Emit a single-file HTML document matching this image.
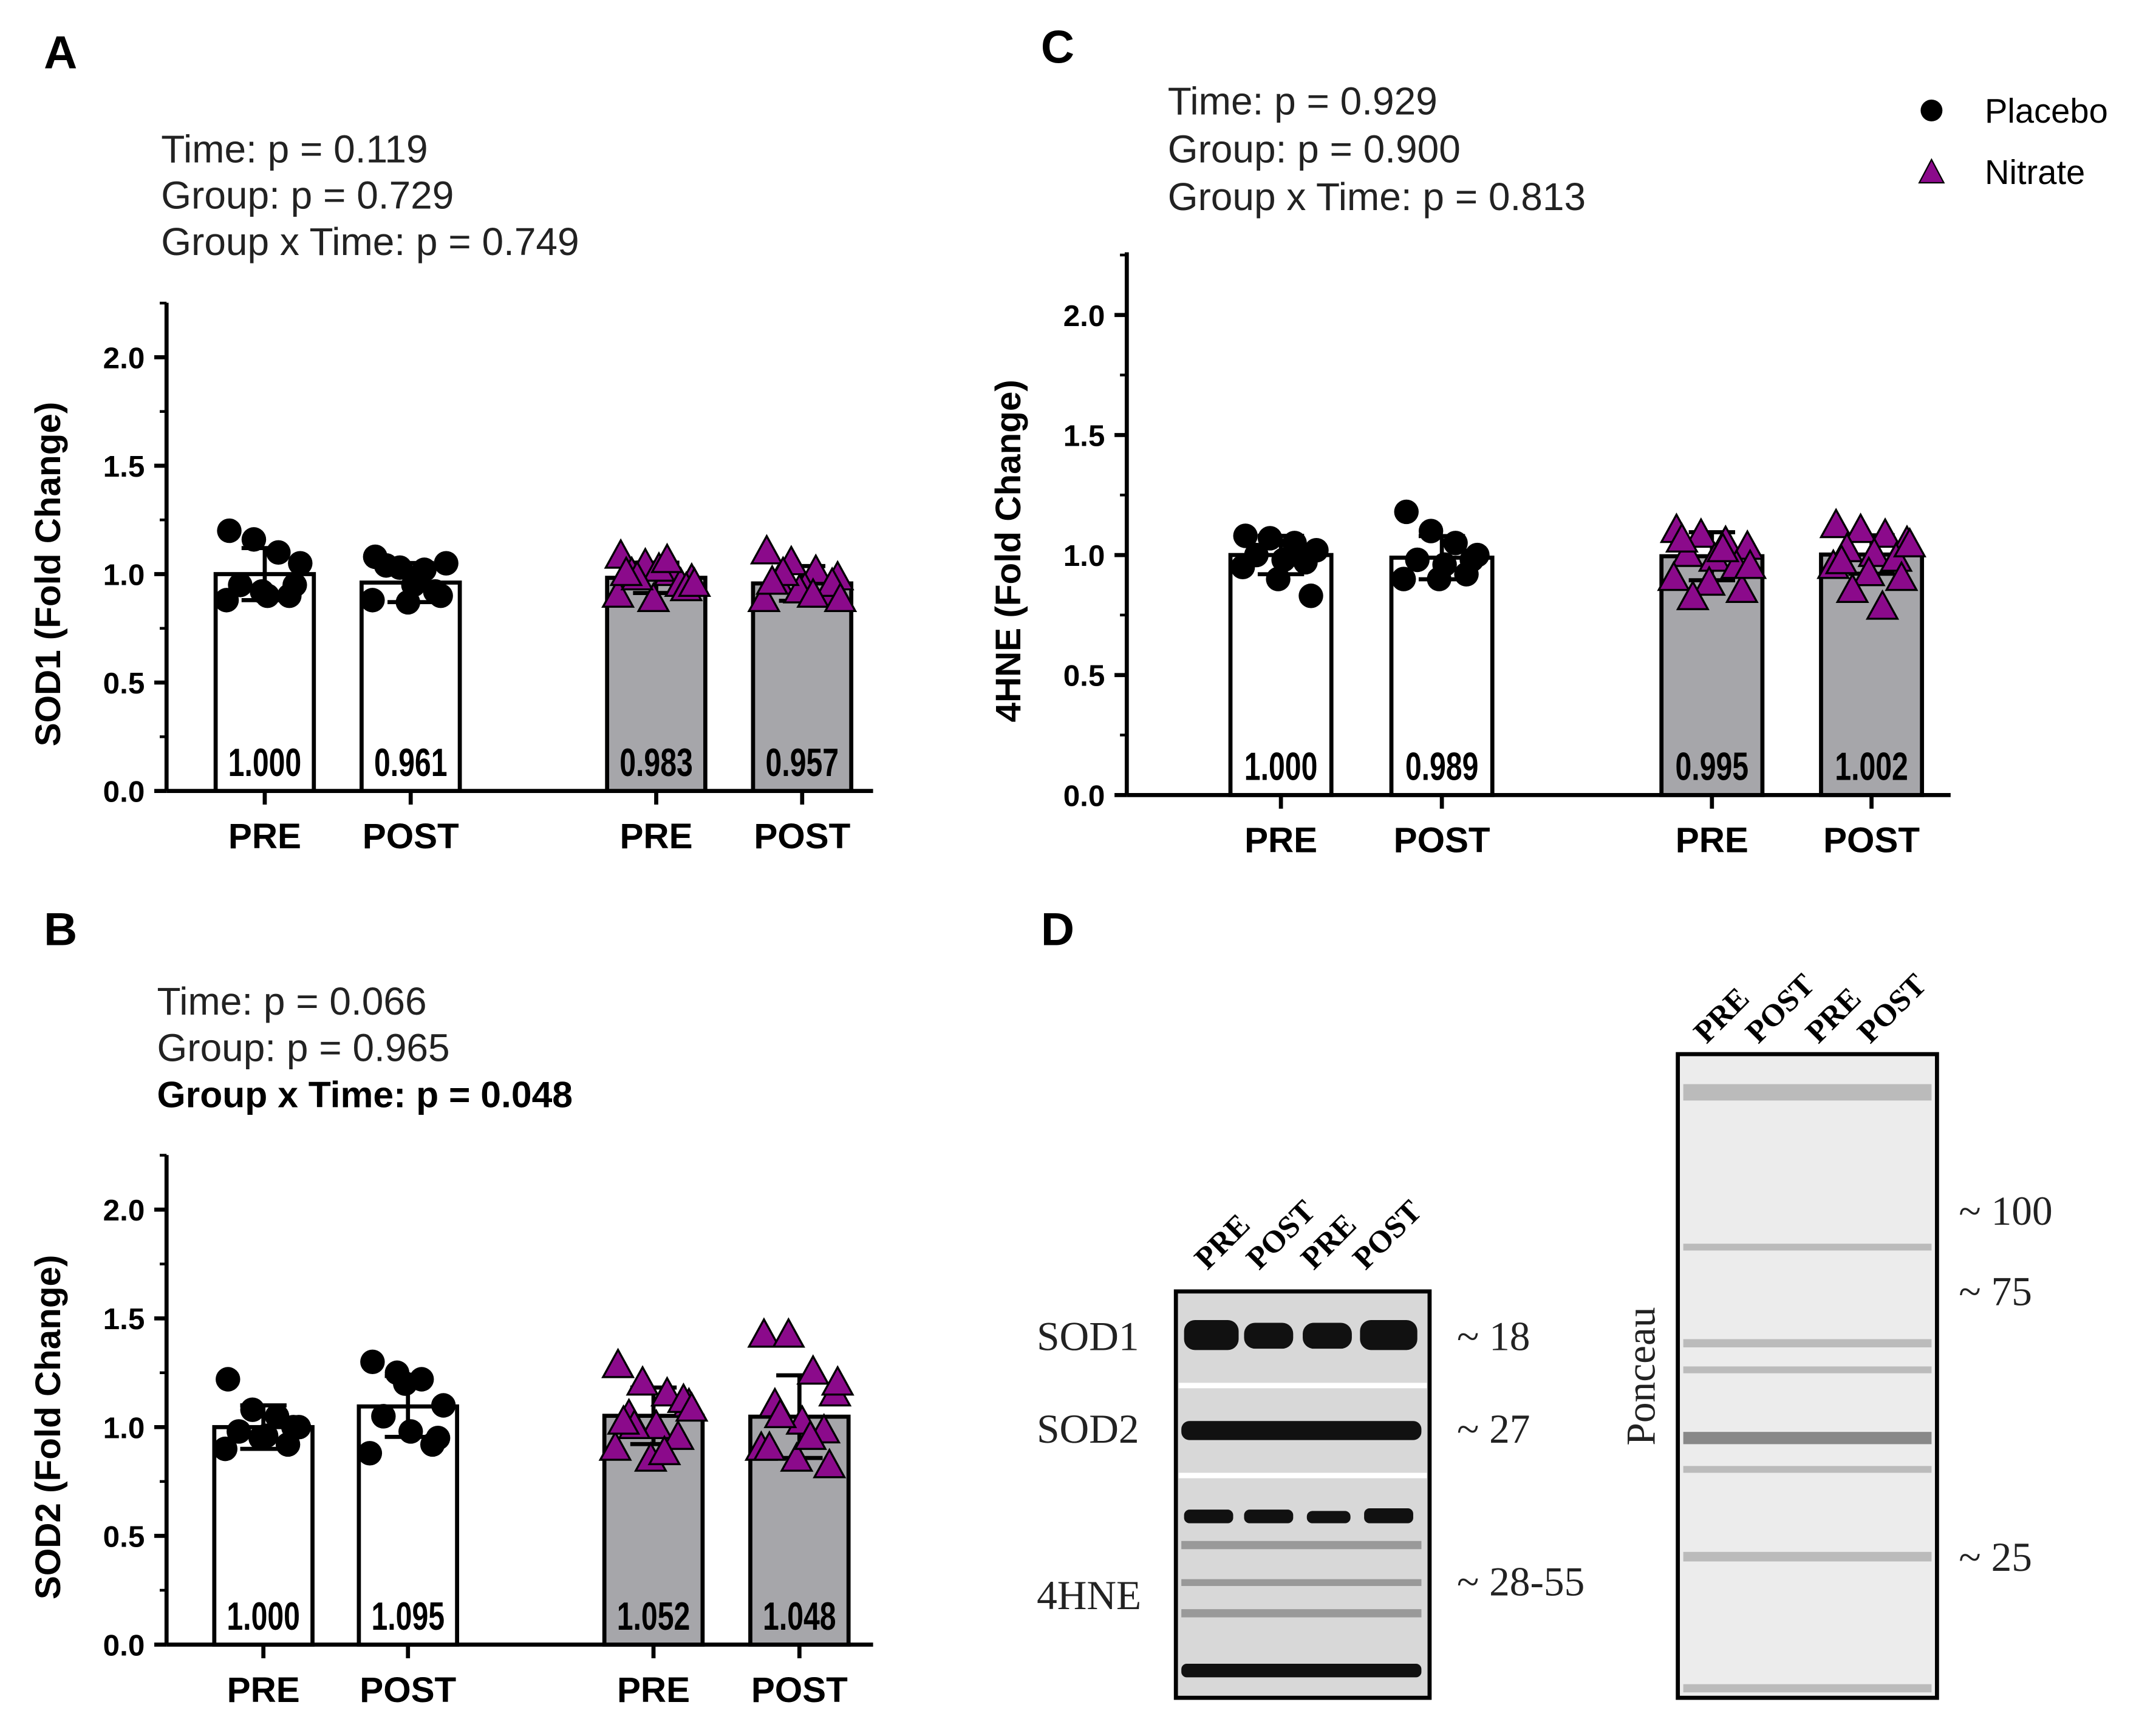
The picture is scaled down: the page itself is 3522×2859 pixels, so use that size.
<!DOCTYPE html>
<html><head><meta charset="utf-8"><style>html,body{margin:0;padding:0;background:#fff}svg{display:block}text{font-family:"Liberation Sans",Arial,sans-serif}text.serif{font-family:"Liberation Serif","Times New Roman",serif}</style></head>
<body>
<svg id="fig" xmlns="http://www.w3.org/2000/svg" width="3522" height="2859" viewBox="0 0 1568 1273">
<g id="static">
<text x="32" y="50" font-size="34" font-weight="bold">A</text>
<text x="32" y="693" font-size="34" font-weight="bold">B</text>
<text x="763" y="46" font-size="34" font-weight="bold">C</text>
<text x="763" y="693" font-size="34" font-weight="bold">D</text>
<g font-size="28.5" fill="#222">
<text x="118" y="119">Time: p = 0.119</text>
<text x="118" y="153">Group: p = 0.729</text>
<text x="118" y="187">Group x Time: p = 0.749</text>
<text x="115" y="744">Time: p = 0.066</text>
<text x="115" y="778">Group: p = 0.965</text>
<text x="115" y="812" font-weight="bold" fill="#000" font-size="27">Group x Time: p = 0.048</text>
<text x="856" y="84">Time: p = 0.929</text>
<text x="856" y="119">Group: p = 0.900</text>
<text x="856" y="154">Group x Time: p = 0.813</text>
</g>
<g>
<circle cx="1416" cy="81" r="8" fill="#000"/>
<text x="1455" y="90" font-size="25">Placebo</text>
<polygon points="1416,117 1425,134 1407,134" fill="#8b0a8b" stroke="#000" stroke-width="1"/>
<text x="1455" y="135" font-size="25">Nitrate</text>
</g>
<g>
<g font-size="23" font-weight="bold">
<text class="serif" transform="translate(885,932) rotate(-45)">PRE</text>
<text class="serif" transform="translate(923,932) rotate(-45)">POST</text>
<text class="serif" transform="translate(963,932) rotate(-45)">PRE</text>
<text class="serif" transform="translate(1001,932) rotate(-45)">POST</text>
<text class="serif" transform="translate(1251,766) rotate(-45)">PRE</text>
<text class="serif" transform="translate(1289,766) rotate(-45)">POST</text>
<text class="serif" transform="translate(1333,766) rotate(-45)">PRE</text>
<text class="serif" transform="translate(1371,766) rotate(-45)">POST</text>
</g>
<rect x="862" y="947" width="186" height="298" fill="#d8d8d8" stroke="#000" stroke-width="3"/>
<rect x="864" y="1014" width="182" height="4" fill="#fff"/>
<rect x="864" y="1080" width="182" height="4" fill="#fff"/>
<g fill="#111">
<rect x="868" y="968" width="40" height="22" rx="8"/><rect x="912" y="970" width="36" height="19" rx="8"/><rect x="955" y="970" width="36" height="19" rx="8"/><rect x="997" y="968" width="42" height="22" rx="8"/>
<rect x="866" y="1042" width="176" height="14" rx="6"/>
<rect x="868" y="1107" width="36" height="10" rx="4"/><rect x="912" y="1107" width="36" height="10" rx="4"/><rect x="958" y="1108" width="32" height="9" rx="4"/><rect x="1000" y="1106" width="36" height="11" rx="4"/>
<rect x="866" y="1220" width="176" height="10" rx="4"/>
</g>
<g fill="#999"><rect x="866" y="1130" width="176" height="6"/><rect x="866" y="1158" width="176" height="5"/><rect x="866" y="1180" width="176" height="6"/></g>
<g font-size="30" fill="#222">
<text class="serif" x="760" y="990">SOD1</text><text class="serif" x="760" y="1058">SOD2</text><text class="serif" x="760" y="1180">4HNE</text>
<text class="serif" x="1068" y="990">~ 18</text><text class="serif" x="1068" y="1058">~ 27</text><text class="serif" x="1068" y="1170">~ 28-55</text>
<text class="serif" x="1436" y="898">~ 100</text><text class="serif" x="1436" y="957">~ 75</text><text class="serif" x="1436" y="1152">~ 25</text>
<text class="serif" transform="translate(1213,1060) rotate(-90)">Ponceau</text>
</g>
<rect x="1230" y="773" width="190" height="472" fill="#ececec" stroke="#000" stroke-width="3"/>
<g fill="#bbb"><rect x="1234" y="795" width="182" height="12"/><rect x="1234" y="912" width="182" height="5"/><rect x="1234" y="982" width="182" height="6"/><rect x="1234" y="1002" width="182" height="5"/><rect x="1234" y="1075" width="182" height="5"/><rect x="1234" y="1138" width="182" height="7"/><rect x="1234" y="1235" width="182" height="6"/></g>
<rect x="1234" y="1050" width="182" height="9" fill="#888"/>
</g>
</g>
<g id="charts"></g>
</svg>
<script>
const categories = ["PRE","POST","PRE","POST"];
const meansA = [1.000,0.961,0.983,0.957];
const meansB = [1.000,1.095,1.052,1.048];
const meansC = [1.000,0.989,0.995,1.002];
const sdA = [0.12,0.09,0.07,0.08];
const sdB = [0.10,0.14,0.13,0.19];
const sdC = [0.08,0.09,0.10,0.08];
const ptsA = [[1.2,1.16,1.1,1.05,0.95,0.9,0.9,0.88,0.92,0.95],[1.08,1.03,1.02,1.05,1.04,0.95,0.92,0.88,0.87,0.9],[1.08,1.04,1.0,0.97,1.0,1.02,0.95,0.9,0.88,0.93,0.98,1.06,0.95,1.0],[1.1,1.05,1.01,0.98,0.96,0.93,0.9,0.88,0.92,0.95,1.0,0.9,0.88,0.96]];
const ptsB = [[1.22,1.08,1.05,1.0,0.98,0.96,0.92,0.9,0.95,1.0],[1.3,1.25,1.22,1.1,1.05,0.98,0.92,0.88,1.2,0.95],[1.28,1.2,1.15,1.1,1.05,1.0,0.95,0.9,0.85,1.12,1.0,0.88,1.08,1.02],[1.42,1.42,1.25,1.15,1.1,1.02,0.98,0.9,0.85,0.82,1.05,0.95,1.2,0.9]];
const ptsC = [[1.08,1.07,1.05,1.02,1.0,0.98,0.97,0.95,0.9,0.83],[1.18,1.1,1.05,1.0,0.98,0.96,0.92,0.9,0.9,0.98],[1.1,1.08,1.05,1.03,1.0,0.98,0.95,0.9,0.88,0.85,0.82,1.02,0.95,1.06],[1.12,1.1,1.08,1.05,1.02,1.0,0.98,0.95,0.92,0.9,0.85,0.78,1.04,0.97]];
const NS="http://www.w3.org/2000/svg";
const root=document.getElementById('charts');
function el(tag,attrs,parent){const e=document.createElementNS(NS,tag);for(const k in attrs)e.setAttribute(k,attrs[k]);(parent||root).appendChild(e);return e;}
const jit=[-26,-8,10,26,-18,2,18,-28,-2,22,-14,8,28,-22];
function panel(p){
  const g=el('g',{});
  
  
  const y=v=>p.y0-v*p.unit;
  const ax=el('line',{x1:p.ax,y1:p.top,x2:p.ax,y2:p.y0,stroke:'#000','stroke-width':3},g);
  
  const xa=el('line',{x1:p.ax,y1:p.y0,x2:p.xend,y2:p.y0,stroke:'#000','stroke-width':3},g);
  
  for(let i=0;i<=4;i++){const v=i*0.5;el('line',{x1:p.ax-9,y1:y(v),x2:p.ax,y2:y(v),stroke:'#000','stroke-width':3},g);
    const t=el('text',{x:p.ax-16,y:y(v)+8,'font-size':22,'font-weight':'bold','text-anchor':'end'},g);t.textContent=v.toFixed(1);
    
    if(i<4)el('line',{x1:p.ax-5,y1:y(v+0.25),x2:p.ax,y2:y(v+0.25),stroke:'#000','stroke-width':2},g);}
  el('line',{x1:p.ax-5,y1:y(2.25),x2:p.ax,y2:y(2.25),stroke:'#000','stroke-width':2},g);
  const yt=el('text',{transform:`translate(${p.ax-78},${(p.y0+p.top)/2+20}) rotate(-90)`,'font-size':26,'font-weight':'bold','text-anchor':'middle'},g);
  yt.textContent=p.ylabel;
  categories.forEach((c,i)=>{
    const cx=p.cx[i],w=p.bw,m=p.means[i],nit=i>=2;
    const b=el('rect',{x:cx-w/2,y:y(m),width:w,height:y(0)-y(m),fill:nit?'#a6a6aa':'#fff',stroke:'#000','stroke-width':3},g);
    
    el('line',{x1:cx,y1:p.y0,x2:cx,y2:p.y0+10,stroke:'#000','stroke-width':3},g);
    const xl=el('text',{x:cx,y:p.y0+42,'font-size':26,'font-weight':'bold','text-anchor':'middle'},g);xl.textContent=c;
    
    const vl=el('text',{x:cx,y:p.y0-11,'font-size':29,'font-weight':'bold','text-anchor':'middle'},g);
    vl.setAttribute('transform',`translate(${cx},0) scale(0.74,1) translate(${-cx},0)`);
    vl.textContent=m.toFixed(3);
    const sd=p.sd[i];
    el('line',{x1:cx,y1:y(m+sd),x2:cx,y2:y(m-sd),stroke:'#000','stroke-width':3},g);
    el('line',{x1:cx-17,y1:y(m+sd),x2:cx+17,y2:y(m+sd),stroke:'#000','stroke-width':3},g);
    el('line',{x1:cx-17,y1:y(m-sd),x2:cx+17,y2:y(m-sd),stroke:'#000','stroke-width':3},g);
    p.pts[i].forEach((v,k)=>{const px=cx+jit[k%jit.length],py=y(v);let mk;
      if(nit)mk=el('polygon',{points:`${px},${py-12} ${px+11},${py+8} ${px-11},${py+8}`,fill:'#8b0a8b',stroke:'#000','stroke-width':1.5},g);
      else mk=el('circle',{cx:px,cy:py,r:9,fill:'#000'},g);
      });
  });
}
panel({name:'chart-sod1',ax:122,top:222,y0:580,unit:159,xend:640,cx:[194,301,481,588],bw:72,means:meansA,sd:sdA,pts:ptsA,ylabel:'SOD1 (Fold Change)'});
panel({name:'chart-sod2',ax:122,top:847,y0:1206,unit:159.5,xend:640,cx:[193,299,479,586],bw:72,means:meansB,sd:sdB,pts:ptsB,ylabel:'SOD2 (Fold Change)'});
panel({name:'chart-4hne',ax:826,top:185,y0:583,unit:176,xend:1430,cx:[939,1057,1255,1372],bw:74,means:meansC,sd:sdC,pts:ptsC,ylabel:'4HNE (Fold Change)'});
</script>
</body></html>
